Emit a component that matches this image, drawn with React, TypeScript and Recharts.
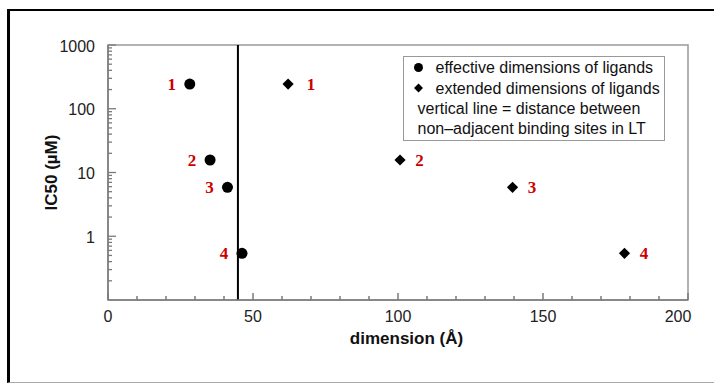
import React from 'react';
import { ScatterChart, Scatter, XAxis, YAxis, ReferenceLine, ReferenceArea } from 'recharts';

// ---- data ----
const ligandIds = ['1', '2', '3', '4'];
const effectiveDims = [28.2, 35.2, 41.2, 46.2];
const extendedDims = [62.1, 100.7, 139.5, 178.1];
const ic50Values = [244, 15.7, 5.85, 0.54];
const ltSiteDistance = 44.8;

const xMajorTicks = [0, 50, 100, 150, 200];
const xMinorTicks = [10, 20, 30, 40, 60, 70, 80, 90, 110, 120, 130, 140, 160, 170, 180, 190];
const yMajorTicks = [1, 10, 100, 1000];
const yMinorTicks = [
  0.2, 0.3, 0.4, 0.5, 0.6, 0.7, 0.8, 0.9,
  2, 3, 4, 5, 6, 7, 8, 9,
  20, 30, 40, 50, 60, 70, 80, 90,
  200, 300, 400, 500, 600, 700, 800, 900,
];

const seriesNames = ['effective dimensions of ligands', 'extended dimensions of ligands'];
const legendNote = ['vertical line = distance between', 'non\u2013adjacent binding sites in LT'];
const xAxisTitle = 'dimension (\u00C5)';
const yAxisTitle = 'IC50 (\u00B5M)';

const effectiveData = ligandIds.map((id, i) => ({ x: effectiveDims[i], y: ic50Values[i], label: id }));
const extendedData = ligandIds.map((id, i) => ({ x: extendedDims[i], y: ic50Values[i], label: id }));

const xTicks = [...xMajorTicks, ...xMinorTicks].sort((a, b) => a - b);
const yTicks = [...yMajorTicks, ...yMinorTicks].sort((a, b) => a - b);

const SANS = '"Liberation Sans", Arial, Helvetica, sans-serif';
const SERIF = '"Liberation Serif", "Times New Roman", serif';
const AXIS_GRAY = '#7a7a7a';

const XTick = (props: any) => {
  const { x, y, payload } = props;
  const v = payload.value;
  const major = xMajorTicks.includes(v);
  const dx = v === 200 ? -10 : 0;
  return (
    <g>
      <line x1={x} x2={x} y1={y} y2={y - (major ? 7 : 4)} stroke={AXIS_GRAY} strokeWidth={1.5} />
      {major && (
        <text x={x + dx} y={y + 16} textAnchor="middle" dominantBaseline="central" fontFamily={SANS} fontSize={16} fill="#222">
          {v}
        </text>
      )}
    </g>
  );
};

const YTick = (props: any) => {
  const { x, y, payload } = props;
  const v = payload.value;
  const major = yMajorTicks.includes(v);
  return (
    <g>
      <line x1={x} x2={x + (major ? 8 : 4)} y1={y} y2={y} stroke={AXIS_GRAY} strokeWidth={1.3} />
      {major && (
        <text x={x - 13} y={y + 1} textAnchor="end" dominantBaseline="central" fontFamily={SANS} fontSize={16} fill="#222">
          {v}
        </text>
      )}
    </g>
  );
};

const idLabel = (x: number, y: number, txt: string) => (
  <text x={x} y={y} textAnchor="middle" dominantBaseline="central" fontFamily={SERIF} fontWeight="bold" fontSize={17} fill="#cc0000">
    {txt}
  </text>
);

const CircleShape = (p: any) => (
  <g>
    <circle cx={p.cx} cy={p.cy} r={5.5} fill="#000" />
    {idLabel(p.cx - 18, p.cy, p.payload.label)}
  </g>
);

const DiamondShape = (p: any) => {
  const { cx, cy } = p;
  const s = 5.6;
  return (
    <g>
      <polygon points={`${cx},${cy - s} ${cx + s},${cy} ${cx},${cy + s} ${cx - s},${cy}`} fill="#000" />
      {idLabel(cx + (p.payload.label === '1' ? 23 : 19.5), cy, p.payload.label)}
    </g>
  );
};

const XLabel = (props: any) => {
  const vb = props.viewBox || { x: 108, y: 300, width: 580, height: 83 };
  return (
    <text x={vb.x + vb.width / 2 + 8.5} y={vb.y + 44} textAnchor="middle" fontFamily={SANS} fontWeight="bold" fontSize={17} fill="#111">
      {xAxisTitle}
    </text>
  );
};

const YLabel = (props: any) => {
  const vb = props.viewBox || { x: 0, y: 45, width: 108, height: 255 };
  const cx = vb.x + 51;
  const cy = vb.y + vb.height / 2;
  return (
    <text x={cx} y={cy} transform={`rotate(-90 ${cx} ${cy})`} textAnchor="middle" dominantBaseline="central" fontFamily={SANS} fontWeight="bold" fontSize={17} fill="#111">
      {yAxisTitle}
    </text>
  );
};

const LegendBox = () => (
  <div
    style={{
      position: 'absolute',
      left: 402.5,
      top: 56,
      width: 262,
      height: 85,
      boxSizing: 'border-box',
      border: '1px solid #999',
      background: '#fff',
    }}
  >
    <svg width={260} height={83} style={{ position: 'absolute', left: 0, top: 0 }}>
      <circle cx={14.5} cy={10.5} r={4.5} fill="#000" />
      <text x={31.5} y={10.8} dominantBaseline="central" fontFamily={SANS} fontSize={16} fill="#111">{seriesNames[0]}</text>
      <polygon points="14.5,26.4 19,30.9 14.5,35.4 10,30.9" fill="#000" />
      <text x={31.5} y={31.2} dominantBaseline="central" fontFamily={SANS} fontSize={16} fill="#111">{seriesNames[1]}</text>
      <text x={13.5} y={51.5} dominantBaseline="central" fontFamily={SANS} fontSize={16} fill="#111">{legendNote[0]}</text>
      <text x={13.5} y={71.5} dominantBaseline="central" fontFamily={SANS} fontSize={16} fill="#111">{legendNote[1]}</text>
    </svg>
  </div>
);

export default function App() {
  return (
    <div style={{ position: 'relative', width: 714, height: 383, overflow: 'hidden', background: '#fff' }}>
      <style>{`body{margin:0;}`}</style>
      <ScatterChart width={714} height={383} margin={{ top: 45, right: 26, bottom: 0, left: 0 }}>
        <XAxis
          type="number"
          dataKey="x"
          domain={[0, 200]}
          ticks={xTicks}
          interval={0}
          height={83}
          tickSize={0}
          tickMargin={0}
          tickLine={false}
          axisLine={{ stroke: AXIS_GRAY, strokeWidth: 1.5 }}
          tick={XTick}
          label={<XLabel />}
          allowDataOverflow
        />
        <YAxis
          type="number"
          dataKey="y"
          scale="log"
          domain={[0.1, 1000]}
          ticks={yTicks}
          interval={0}
          width={108}
          tickSize={0}
          tickMargin={0}
          tickLine={false}
          axisLine={{ stroke: AXIS_GRAY, strokeWidth: 1.5 }}
          tick={YTick}
          label={<YLabel />}
          allowDataOverflow
        />
        <ReferenceArea x1={0} x2={200} y1={0.1} y2={1000} fill="none" stroke="#999" strokeWidth={1.5} ifOverflow="visible" />
        <ReferenceLine x={ltSiteDistance} stroke="#000" strokeWidth={2} />
        <Scatter name={seriesNames[0]} data={effectiveData} shape={CircleShape} isAnimationActive={false} />
        <Scatter name={seriesNames[1]} data={extendedData} shape={DiamondShape} isAnimationActive={false} />
      </ScatterChart>
      <LegendBox />
      <div
        style={{
          position: 'absolute',
          left: 7,
          top: 9,
          width: 800,
          height: 374,
          boxSizing: 'border-box',
          borderTop: '2.5px solid #000',
          borderLeft: '3.5px solid #000',
          borderBottom: '1.5px solid #aaa',
          pointerEvents: 'none',
        }}
      />
    </div>
  );
}
